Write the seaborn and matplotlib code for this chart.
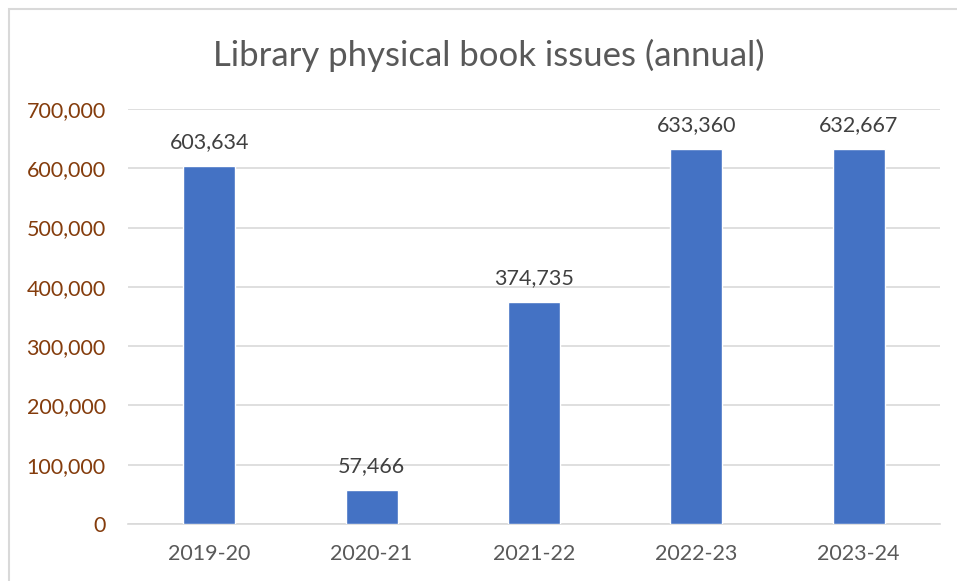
import matplotlib
matplotlib.use("Agg")
import matplotlib.pyplot as plt
import seaborn as sns
import pandas as pd
from matplotlib.patches import Rectangle
from matplotlib.ticker import FuncFormatter

# Data
years = ["2019-20", "2020-21", "2021-22", "2022-23", "2023-24"]
issues = [603634, 57466, 374735, 633360, 632667]

df = pd.DataFrame({"Year": years, "Issues": issues})

sns.set_style("white")
plt.rcParams["font.family"] = ["Lato", "DejaVu Sans"]

fig = plt.figure(figsize=(9.57, 5.81), dpi=100)
ax = fig.add_axes([0.1338, 0.098, 0.982 - 0.1338, 0.8124 - 0.098])

sns.barplot(data=df, x="Year", y="Issues", color="#4472C4", saturation=1,
            width=0.32, ax=ax, zorder=3)

ax.set_ylim(0, 700000)
ax.set_xlim(-0.5, 4.5)
ax.set_yticks(range(0, 700001, 100000))
ax.yaxis.set_major_formatter(FuncFormatter(lambda v, p: f"{int(v):,}"))
ax.grid(axis="y", color="#D9D9D9", linewidth=1.2, zorder=0)
for s in ["top", "right", "left"]:
    ax.spines[s].set_visible(False)
ax.spines["bottom"].set_color("#D9D9D9")
ax.spines["bottom"].set_linewidth(1.2)
ax.tick_params(axis="y", colors="#843C0C", labelsize=15.5, length=0, pad=16)
ax.tick_params(axis="x", colors="#595959", labelsize=15.5, length=0, pad=14)
ax.set_xlabel("")
ax.set_ylabel("")

for i, v in enumerate(issues):
    ax.annotate(f"{v:,}", (i, v), xytext=(0, 10), textcoords="offset points",
                ha="center", va="bottom", fontsize=15.5, color="#404040")

fig.text(0.511, 0.905, "Library physical book issues (annual)", ha="center",
         va="center", fontsize=25, color="#595959")

# chart frame (cropped at right and bottom in the reference)
fig.patches.append(Rectangle((9 / 957, -0.05), 1.1, 1 - 9 / 581 + 0.05,
                             transform=fig.transFigure, fill=False,
                             edgecolor="#D9D9D9", linewidth=1.5))

fig.savefig("out.png", dpi=100)
